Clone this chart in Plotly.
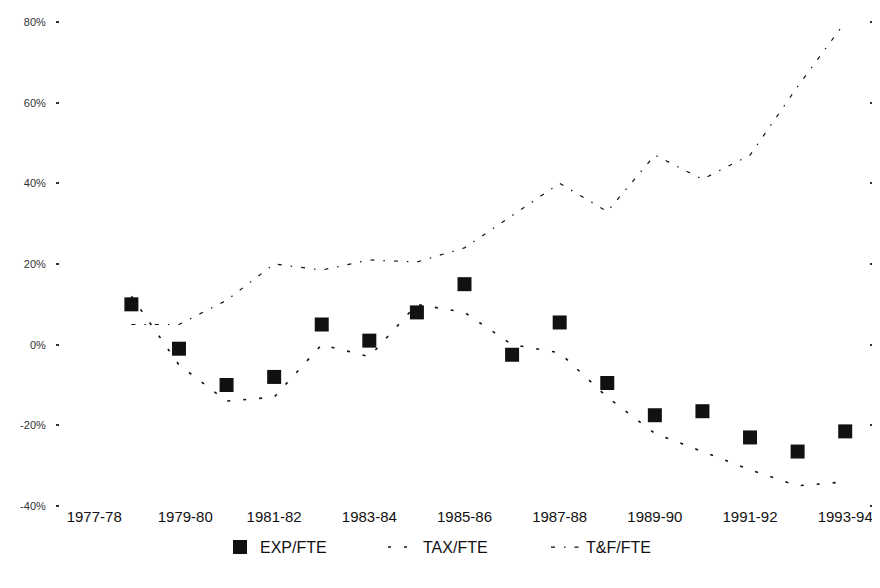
import plotly.graph_objects as go

# School years (1977-78 is the base year, no points plotted)
years = ["1977-78", "1978-79", "1979-80", "1980-81", "1981-82", "1982-83",
         "1983-84", "1984-85", "1985-86", "1986-87", "1987-88", "1988-89",
         "1989-90", "1990-91", "1991-92", "1992-93", "1993-94"]

# Percent change
exp_fte = [None, 10, -1, -10, -8, 5, 1, 8, 15, -2.5, 5.5, -9.5, -17.5, -16.5, -23, -26.5, -21.5]
tax_fte = [None, 12, -5, -14, -13, 0, -3, 10, 8, 0, -2, -13, -22, -26.5, -31, -35, -34]
tf_fte = [None, 5, 5, 11, 20, 18.5, 21, 20.5, 24, 32, 40, 33, 47, 41, 47, 64, 80]

y_ticks = [-40, -20, 0, 20, 40, 60, 80]
y_labels = ["-40%", "-20%", "0%", "20%", "40%", "60%", "80%"]

x_ticks = years[::2]
# first labels sit a little right of their category in the original
x_labels = ["\u00a0" * 5 + x_ticks[0], "\u00a0" * 3 + x_ticks[1]] + x_ticks[2:]

fig = go.Figure()

fig.add_trace(go.Scatter(
    x=years, y=exp_fte, name="EXP/FTE", mode="markers",
    marker=dict(symbol="square", size=14, color="#111111"),
))

fig.add_trace(go.Scatter(
    x=years, y=tax_fte, name="TAX/FTE", mode="lines",
    line=dict(color="#111111", width=1.6, dash="3px,13px"),
))

fig.add_trace(go.Scatter(
    x=years, y=tf_fte, name="T&F/FTE", mode="lines",
    line=dict(color="#111111", width=1.2, dash="4px,9px,1.5px,9px"),
))

fig.update_layout(
    width=880, height=588,
    paper_bgcolor="white", plot_bgcolor="white",
    margin=dict(l=52, r=19, t=8, b=90),
    font=dict(family="Liberation Sans, Arial, sans-serif", color="#222222", size=12),
    showlegend=True,
    legend=dict(
        orientation="h", x=0.5, xanchor="center", y=-0.085, yanchor="middle",
        font=dict(size=16, color="#111111"), itemwidth=30,
        entrywidth=118, traceorder="normal",
    ),
    xaxis=dict(
        type="category", range=[-0.5, 16.5],
        tickmode="array", tickvals=x_ticks, ticktext=x_labels,
        showgrid=False, zeroline=False, showline=False,
        ticks="", tickfont=dict(size=15, color="#111111"),
    ),
    yaxis=dict(
        range=[-40, 80], tickmode="array", tickvals=y_ticks, ticktext=y_labels,
        showgrid=False, zeroline=False, showline=False, mirror="ticks",
        ticks="outside", ticklen=3, tickwidth=2, tickcolor="#333333",
        ticklabelstandoff=8,
        tickfont=dict(size=11, color="#333333"),
    ),
)

fig.write_html("out.html")
